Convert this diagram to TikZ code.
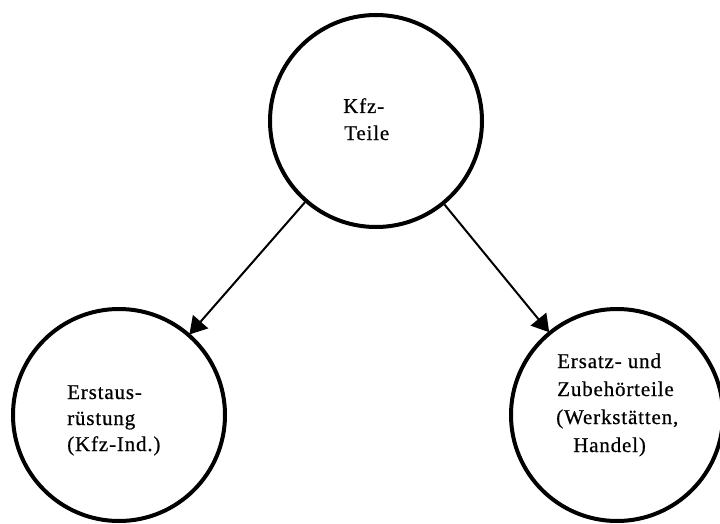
\documentclass[tikz,border=0pt]{standalone}
\usepackage{fontspec}
\setmainfont{Liberation Serif}[LetterSpace=4,FakeBold=0.6]
\usetikzlibrary{arrows.meta}
\begin{document}
\begin{tikzpicture}[x=1pt,y=-1pt,
  bubble/.style={circle,draw=black,line width=4pt,minimum size=212pt,inner sep=0pt},
  lbl/.style={anchor=base west,inner sep=0pt,font=\fontsize{21}{26}\selectfont},
  link/.style={line width=2pt,-{Triangle[length=17pt,width=20pt]},shorten >=-1pt}]
\useasboundingbox (0,0) rectangle (720,524);
\node[bubble] (top) at (376,121) {};
\node[bubble] (left) at (119,415) {};
\node[bubble] (right) at (617,415) {};
\node[lbl] (t1) at (343,113) {Kfz-};
\node[lbl] (t2) at (344,140) {Teile};
\node[lbl] (l1) at (67,399) {Erstaus-};
\node[lbl] (l2) at (67,425) {rüstung};
\node[lbl] (l3) at (67,451) {(Kfz-Ind.)};
\node[lbl] (r1) at (557,368) {Ersatz- und};
\node[lbl] (r2) at (557,396) {Zubehörteile};
\node[lbl] (r3) at (556,424) {(Werkstätten,};
\node[lbl] (r4) at (573,452) {Handel)};
\draw[link] (top) -- (left);
\draw[link] (top) -- (right);
\end{tikzpicture}
\end{document}
